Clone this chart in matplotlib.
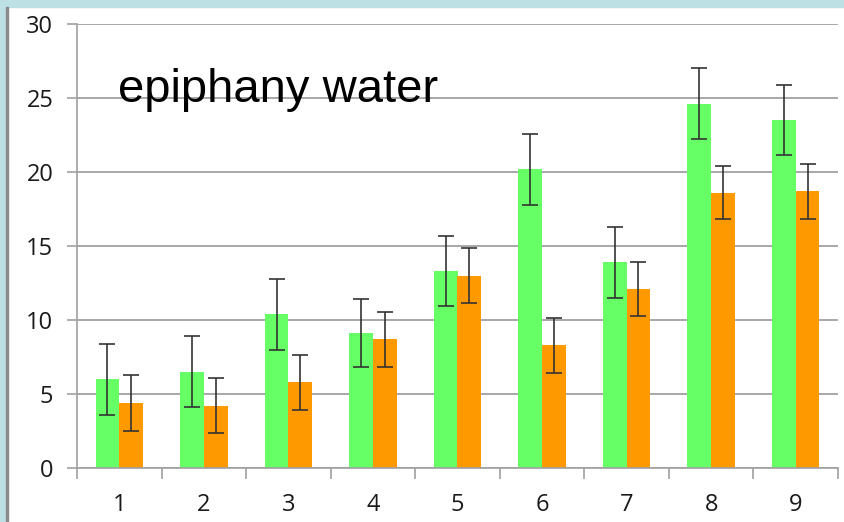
import matplotlib.pyplot as plt
from matplotlib.patches import Rectangle
import numpy as np

# samples 1..9, two series with error bars
categories = ['1', '2', '3', '4', '5', '6', '7', '8', '9']
green_vals = [6.0, 6.5, 10.4, 9.1, 13.3, 20.2, 13.9, 24.6, 23.5]
green_err = [2.4, 2.4, 2.4, 2.3, 2.35, 2.4, 2.4, 2.4, 2.35]
orange_vals = [4.4, 4.2, 5.8, 8.7, 13.0, 8.3, 12.1, 18.6, 18.7]
orange_err = [1.9, 1.85, 1.85, 1.85, 1.85, 1.85, 1.85, 1.8, 1.85]
yticks = [0, 5, 10, 15, 20, 25, 30]

plt.rcParams['font.family'] = ['Open Sans', 'DejaVu Sans']

fig = plt.figure(figsize=(8.44, 5.22), dpi=100)
fig.patch.set_facecolor('white')

# light blue slide border (top and left)
fig.patches.append(Rectangle((0, 1 - 7 / 522), 1, 7 / 522, transform=fig.transFigure,
                             color='#bde0e4', zorder=0))
fig.patches.append(Rectangle((0, 0), 6 / 844, 1, transform=fig.transFigure,
                             color='#bde0e4', zorder=0))
fig.patches.append(Rectangle((6 / 844, 0), 1.5 / 844, 1 - 7 / 522, transform=fig.transFigure,
                             color='#8a8a8a', zorder=0))

ax = fig.add_axes([77 / 844, 1 - 468 / 522, 761 / 844, 444 / 522])
ax.set_facecolor('none')

x = np.arange(len(categories))
w = 0.28
ekw = dict(ecolor='#333333', elinewidth=1.2, capsize=6, capthick=1.2)
ax.bar(x - w / 2, green_vals, w, color='#66ff66', yerr=green_err, error_kw=ekw, zorder=2)
ax.bar(x + w / 2, orange_vals, w, color='#ff9900', yerr=orange_err, error_kw=ekw, zorder=2)

ax.set_xlim(-0.5, len(categories) - 0.5)
ax.set_ylim(0, 30)
ax.set_yticks(yticks)
ax.set_yticklabels([str(v) for v in yticks], fontsize=17, color='#1a1a1a')
ax.set_xticks(x)
ax.set_xticklabels(categories, fontsize=17, color='#1a1a1a')
ax.tick_params(axis='x', length=0, pad=18)
ax.set_xticks(np.arange(len(categories) + 1) - 0.5, minor=True)
ax.tick_params(axis='x', which='minor', length=8, color='#a0a0a0', width=1.2)
ax.tick_params(axis='y', length=7, color='#a0a0a0', width=1.2, pad=10)

ax.yaxis.grid(True, color='#a0a0a0', linewidth=1.3, zorder=0)
ax.set_axisbelow(True)
for s in ['top', 'right']:
    ax.spines[s].set_visible(False)
for s in ['left', 'bottom']:
    ax.spines[s].set_color('#a0a0a0')
    ax.spines[s].set_linewidth(1.2)

ax.text(118 / 844, 1 - 90 / 522, 'epiphany water', transform=fig.transFigure,
        fontsize=34, family=['Liberation Sans', 'DejaVu Sans'], va='center', ha='left')

fig.savefig('out.png', dpi=100, facecolor=fig.get_facecolor())
